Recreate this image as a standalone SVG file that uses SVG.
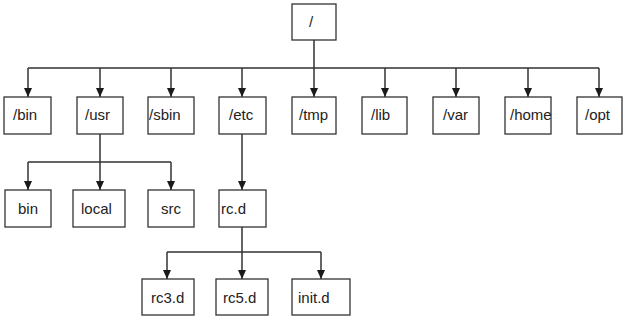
<svg xmlns="http://www.w3.org/2000/svg" width="624" height="327" viewBox="0 0 624 327">
<style>
.box{fill:#fff;stroke:#333;stroke-width:1.3}
.lbl{font-family:"Liberation Sans",Arial,sans-serif;font-size:15px;fill:#222}
.ln{fill:none;stroke:#333;stroke-width:1.5}
.arr{fill:none;stroke:#333;stroke-width:1.5;marker-end:url(#ah)}
</style>
<defs>
<marker id="ah" markerUnits="userSpaceOnUse" markerWidth="9" markerHeight="8" refX="9" refY="4" orient="auto" viewBox="0 0 9 8">
<path d="M0,0 L9,4 L0,8 Z" fill="#1a1a1a"/>
</marker>
</defs>
<rect width="624" height="327" fill="#fff"/>
<g id="connectors">
<path class="ln" d="M314,40 V68 M28,68 H599"/>
<path class="arr" d="M28,68 V97"/>
<path class="arr" d="M100,68 V97"/>
<path class="arr" d="M171,68 V97"/>
<path class="arr" d="M242,68 V97"/>
<path class="arr" d="M314,68 V97"/>
<path class="arr" d="M385,68 V97"/>
<path class="arr" d="M456,68 V97"/>
<path class="arr" d="M528,68 V97"/>
<path class="arr" d="M599,68 V97"/>
<path class="ln" d="M100,134 V162 M28,162 H171"/>
<path class="arr" d="M28,162 V190"/>
<path class="arr" d="M100,162 V190"/>
<path class="arr" d="M171,162 V190"/>
<path class="arr" d="M242,134 V190"/>
<path class="ln" d="M242,227 V252 M167,252 H321"/>
<path class="arr" d="M167,252 V279"/>
<path class="arr" d="M242,252 V279"/>
<path class="arr" d="M321,252 V279"/>
</g>
<g id="root"><rect class="box" x="292" y="4" width="44" height="36"/><text class="lbl" x="309" y="27">/</text></g>
<g id="n-bin"><rect class="box" x="4" y="97" width="47" height="37"/><text class="lbl" x="13" y="120">/bin</text></g>
<g id="n-usr"><rect class="box" x="77" y="97" width="46" height="37"/><text class="lbl" x="85" y="120">/usr</text></g>
<g id="n-sbin"><rect class="box" x="148" y="97" width="46" height="37"/><text class="lbl" x="149" y="120">/sbin</text></g>
<g id="n-etc"><rect class="box" x="219" y="97" width="47" height="37"/><text class="lbl" x="229" y="120">/etc</text></g>
<g id="n-tmp"><rect class="box" x="292" y="97" width="44" height="37"/><text class="lbl" x="299" y="120">/tmp</text></g>
<g id="n-lib"><rect class="box" x="362" y="97" width="45" height="37"/><text class="lbl" x="371" y="120">/lib</text></g>
<g id="n-var"><rect class="box" x="433" y="97" width="46" height="37"/><text class="lbl" x="443" y="120">/var</text></g>
<g id="n-home"><rect class="box" x="505" y="97" width="46" height="37"/><text class="lbl" x="510" y="120">/home</text></g>
<g id="n-opt"><rect class="box" x="577" y="97" width="45" height="37"/><text class="lbl" x="585" y="120">/opt</text></g>
<g id="n-ubin"><rect class="box" x="5" y="190" width="46" height="37"/><text class="lbl" x="18" y="214">bin</text></g>
<g id="n-local"><rect class="box" x="73" y="190" width="52" height="37"/><text class="lbl" x="81" y="214">local</text></g>
<g id="n-src"><rect class="box" x="148" y="190" width="46" height="37"/><text class="lbl" x="161" y="214">src</text></g>
<g id="n-rcd"><rect class="box" x="219" y="190" width="47" height="37"/><text class="lbl" x="221" y="214">rc.d</text></g>
<g id="n-rc3d"><rect class="box" x="142" y="279" width="52" height="36"/><text class="lbl" x="151" y="303">rc3.d</text></g>
<g id="n-rc5d"><rect class="box" x="216" y="279" width="52" height="36"/><text class="lbl" x="223" y="303">rc5.d</text></g>
<g id="n-initd"><rect class="box" x="292" y="279" width="58" height="36"/><text class="lbl" x="298" y="303">init.d</text></g>
</svg>
